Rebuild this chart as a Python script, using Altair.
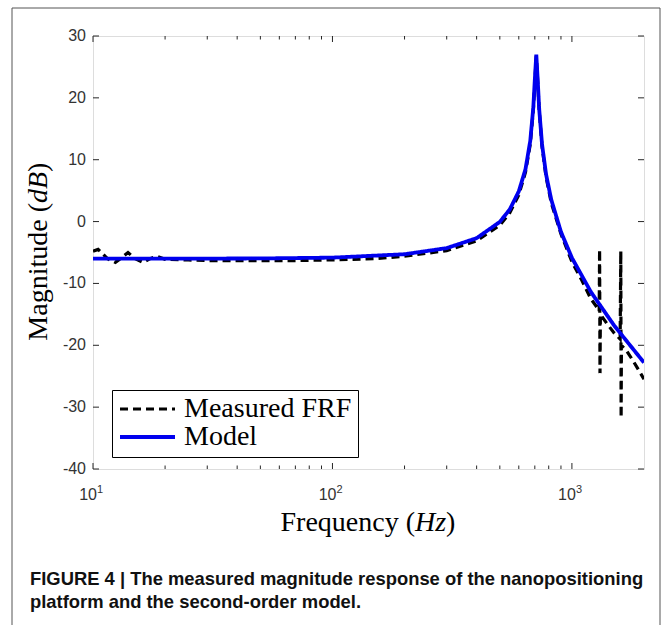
import altair as alt
import pandas as pd

# ---- data ----
meas_freq = [10, 10.5, 11.5, 12.4, 13.2, 14.0, 15.0, 16.2, 17.3, 18.5, 20, 25, 30, 40, 50, 70,
             100, 150, 200, 300, 400, 500, 550, 600, 640, 670, 690, 700, 710, 720, 730, 750,
             780, 820, 900, 1000, 1100, 1200, 1280, 1300, 1305, 1310, 1315, 1400, 1500, 1590,
             1600, 1605, 1610, 1700, 1800, 1900, 2000]
meas_mag = [-4.8, -4.5, -6.0, -6.6, -5.8, -5.0, -6.0, -6.6, -6.0, -5.6, -6.1, -6.2, -6.3, -6.3, -6.3, -6.3,
            -6.2, -6.0, -5.6, -4.7, -3.1, -0.6, 1.4, 4.3, 8.0, 12.5, 18.0, 22.5, 26.8, 22.5, 18.0, 12.2,
            7.2, 3.0, -2.0, -6.5, -9.5, -12.5, -14.0, -14.5, -4.5, -24.5, -15.0, -16.5, -18.0, -19.0,
            -4.8, -31.7, -20.0, -21.0, -22.5, -24.0, -25.5]

model_freq = [10, 20, 50, 100, 200, 300, 400, 500, 550, 600, 640, 670, 690, 700, 710, 720, 730,
              750, 780, 820, 900, 1000, 1200, 1500, 2000]
model_mag = [-6.0, -6.0, -5.96, -5.83, -5.28, -4.29, -2.68, -0.05, 1.96, 4.88, 8.49, 13.05, 18.5,
             22.95, 27.0, 22.78, 18.2, 12.55, 7.62, 3.53, -1.66, -5.86, -11.37, -16.79, -22.8]

series_names = ["Measured FRF", "Model"]
y_ticks = [-40, -30, -20, -10, 0, 10, 20, 30]
y_tick_labels = ["-40", "-30", "-20", "-10", "0", "10", "20", "30"]
x_major = [10, 100, 1000]
x_exponent = ["1", "2", "3"]
x_minor = [20, 30, 40, 50, 60, 70, 80, 90, 200, 300, 400, 500, 600, 700, 800, 900]

caption1 = "FIGURE 4 | The measured magnitude response of the nanopositioning"
caption2 = "platform and the second-order model."

# ---- tables ----
rows = []
for i, (f, m) in enumerate(zip(meas_freq, meas_mag)):
    rows.append({"f": f, "m": m, "s": series_names[0], "i": i})
for i, (f, m) in enumerate(zip(model_freq, model_mag)):
    rows.append({"f": f, "m": m, "s": series_names[1], "i": i})
df = pd.DataFrame(rows)

W, H = 551, 433
AX = "#262626"
LAB = "#333333"
xs = alt.Scale(type="log", domain=[10, 2000], nice=False)
ys = alt.Scale(domain=[-40, 30], nice=False)

leg = alt.Legend(orient="none", legendX=19, legendY=354, title=None,
                 symbolType="stroke", symbolSize=3025, symbolStrokeWidth=3,
                 labelFont="Liberation Serif", labelFontSize=28, labelColor="black",
                 labelLimit=400,
                 strokeColor="black", fillColor="white", padding=6, clipHeight=26,
                 rowPadding=0, labelOffset=7)

lines = alt.Chart(df).mark_line(clip=True).encode(
    x=alt.X("f:Q", scale=xs, axis=None),
    y=alt.Y("m:Q", scale=ys, axis=None),
    color=alt.Color("s:N", scale=alt.Scale(domain=series_names, range=["#000000", "#0000ee"]), legend=leg),
    strokeDash=alt.StrokeDash("s:N", scale=alt.Scale(domain=series_names, range=[[8, 5], [1, 0]]), legend=leg),
    strokeWidth=alt.StrokeWidth("s:N", scale=alt.Scale(domain=series_names, range=[3.2, 3.8]), legend=None),
    order="i:Q",
)

ydf = pd.DataFrame({"v": y_ticks, "t": y_tick_labels})
xmaj = pd.DataFrame({"v": x_major, "e": x_exponent})
xmin = pd.DataFrame({"v": x_minor})

def yrule(x1, x2):
    return alt.Chart(ydf).mark_rule(color=AX, strokeWidth=1).encode(
        y=alt.Y("v:Q", scale=ys, axis=None), x=alt.value(x1), x2=alt.value(x2))

def xrule(df_, y1, y2):
    return alt.Chart(df_).mark_rule(color=AX, strokeWidth=1).encode(
        x=alt.X("v:Q", scale=xs, axis=None), y=alt.value(y1), y2=alt.value(y2))

ticks = [yrule(0, 6), yrule(W, W - 6),
         xrule(xmaj, H, H - 6), xrule(xmaj, 0, 6),
         xrule(xmin, H, H - 3.5), xrule(xmin, 0, 3.5)]

# y tick labels
ylab = alt.Chart(ydf).mark_text(align="right", baseline="middle", font="Liberation Sans",
                                fontSize=16, color=LAB).encode(
    y=alt.Y("v:Q", scale=ys, axis=None), x=alt.value(-7), text="t:N")

# x tick labels 10^n with real superscripts
xlab_base = alt.Chart(xmaj).mark_text(text="10", align="right", baseline="alphabetic", dx=4,
                                      font="Liberation Sans", fontSize=16, color=LAB).encode(
    x=alt.X("v:Q", scale=xs, axis=None), y=alt.value(H + 31))
xlab_exp = alt.Chart(xmaj).mark_text(align="left", baseline="alphabetic", dx=4,
                                     font="Liberation Sans", fontSize=11, color=LAB).encode(
    x=alt.X("v:Q", scale=xs, axis=None), y=alt.value(H + 24), text="e:N")

one = pd.DataFrame({"k": [0]})

def txt(text, x, y, **kw):
    return alt.Chart(one).mark_text(text=text, **kw).encode(x=alt.value(x), y=alt.value(y))

serif = dict(font="Liberation Serif", fontSize=28, color="black")
titles = [
    txt("Frequency (", 322, 495, align="right", baseline="alphabetic", **serif),
    txt("Hz", 322, 495, align="left", baseline="alphabetic", fontStyle="italic", **serif),
    txt(")", 353, 495, align="left", baseline="alphabetic", **serif),
    txt("Magnitude (", -46, 167, align="right", baseline="alphabetic", angle=270, **serif),
    txt("dB", -46, 167, align="left", baseline="alphabetic", angle=270, fontStyle="italic", **serif),
    txt(")", -46, 136, align="left", baseline="alphabetic", angle=270, **serif),
    txt(caption1, -63, 549, align="left", baseline="alphabetic", font="Liberation Sans",
        fontSize=18.4, fontWeight="bold", color="#111111"),
    txt(caption2, -63, 572, align="left", baseline="alphabetic", font="Liberation Sans",
        fontSize=18.4, fontWeight="bold", color="#111111"),
]

frame = alt.Chart(one).mark_rect(fillOpacity=0, stroke="#555555", strokeWidth=1).encode(
    x=alt.value(-81), x2=alt.value(567), y=alt.value(-28), y2=alt.value(600))

chart = alt.layer(frame, *ticks, lines, ylab, xlab_base, xlab_exp, *titles).properties(
    width=W, height=H,
    autosize=alt.AutoSizeParams(type="none"),
    padding={"left": 93, "top": 36, "right": 20, "bottom": 156},
).configure_view(stroke=AX, strokeWidth=1.3).configure(background="white")

chart.save("out.html", embed_options={"renderer": "svg", "actions": False})
